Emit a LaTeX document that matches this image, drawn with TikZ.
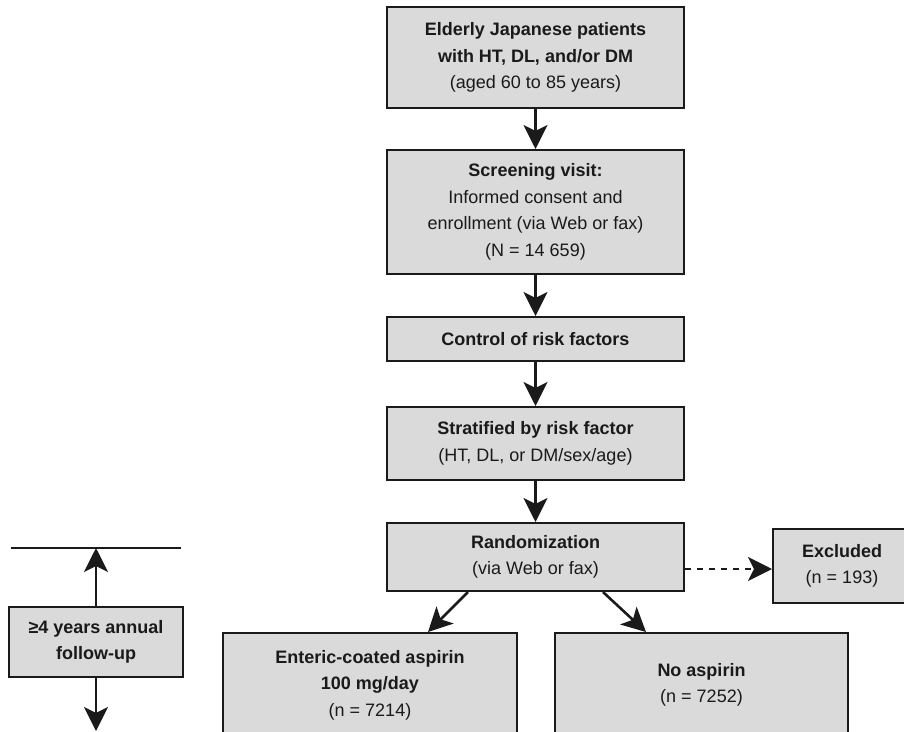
\documentclass[tikz,border=0pt]{standalone}
\usepackage{fontspec}
\setmainfont{Liberation Sans}
\usetikzlibrary{arrows.meta,calc}
\definecolor{boxfill}{HTML}{DADADA}
\definecolor{ink}{HTML}{1A1A1A}
\tikzset{
  flowbox/.style={draw=ink, line width=2pt, fill=boxfill, rectangle, align=center,
    text=ink, inner sep=0pt, font=\fontsize{18}{26.5}\selectfont},
  arr/.style={draw=ink, line width=2.6pt, -{Stealth[length=24pt,width=24pt,inset=6pt]}},
  darr/.style={arr, dash pattern=on 6pt off 6pt},
}
\begin{document}
\begin{tikzpicture}[x=1pt,y=-1pt]
\useasboundingbox (0,0) rectangle (904,731);
\fill[white] (0,0) rectangle (904,731);

\node[flowbox, minimum width=297pt, minimum height=101pt] (b1) at (535.5,57.5)
  {\textbf{Elderly Japanese patients}\\ \textbf{with HT, DL, and/or DM}\\ (aged 60 to 85 years)};
\node[flowbox, minimum width=297pt, minimum height=124pt] (b2) at (535.5,212)
  {\textbf{Screening visit:}\\ Informed consent and\\ enrollment (via Web or fax)\\ (N = 14 659)};
\node[flowbox, minimum width=297pt, minimum height=44pt] (b3) at (535.5,339)
  {\textbf{Control of risk factors}};
\node[flowbox, minimum width=297pt, minimum height=73pt] (b4) at (535.5,443.5)
  {\textbf{Stratified by risk factor}\\ (HT, DL, or DM/sex/age)};
\node[flowbox, minimum width=297pt, minimum height=68pt] (rand) at (535.5,557)
  {\textbf{Randomization}\\ (via Web or fax)};
\node[flowbox, minimum width=138pt, minimum height=74pt] (excl) at (842,566)
  {\textbf{Excluded}\\ (n = 193)};
\node[flowbox, minimum width=294pt, minimum height=104pt] (ent) at (370,685)
  {\textbf{Enteric-coated aspirin}\\ \textbf{100 mg/day}\\ (n = 7214)};
\node[flowbox, minimum width=293pt, minimum height=104pt] (nas) at (701.5,685)
  {\textbf{No aspirin}\\ (n = 7252)};
\node[flowbox, minimum width=174pt, minimum height=70pt] (fu) at (96,642)
  {\textbf{\char"2265 4 years annual}\\ \textbf{follow-up}};

\coordinate (tl) at (11,548);
\coordinate (tr) at (181,548);
\coordinate (fb) at (96,731);

\draw[arr] (b1) -- (b2);
\draw[arr] (b2) -- (b3);
\draw[arr] (b3) -- (b4);
\draw[arr] (b4) -- (rand);
\draw[arr] ([xshift=-67.5pt]rand.south) -- ([xshift=58pt]ent.north);
\draw[arr] ([xshift=67.5pt]rand.south) -- ([xshift=-55.5pt]nas.north);
\draw[darr] ([yshift=-12pt]rand.east) -- ([yshift=-3pt]excl.west);

\draw[draw=ink, line width=2pt] (tl) -- (tr);
\draw[arr] (fu.north) -- (fu.north |- tl);
\draw[arr] (fu.south) -- (fb);
\end{tikzpicture}
\end{document}
